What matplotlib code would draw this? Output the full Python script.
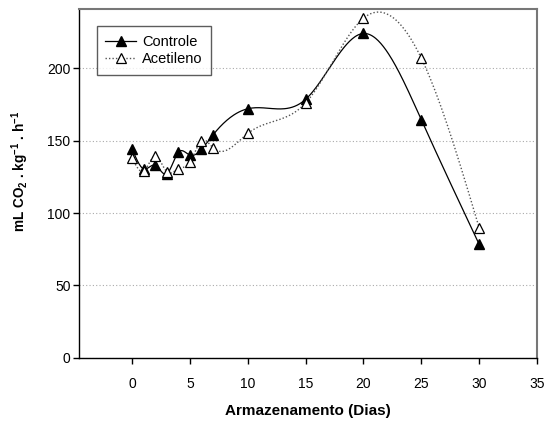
import numpy as np
import matplotlib
matplotlib.use('Agg')
import matplotlib.pyplot as plt

plt.rcParams['font.family'] = ['Liberation Sans', 'DejaVu Sans']
plt.rcParams['mathtext.fontset'] = 'custom'
plt.rcParams['mathtext.rm'] = 'Liberation Sans:bold'
plt.rcParams['mathtext.bf'] = 'Liberation Sans:bold'

dias = [0, 1, 2, 3, 4, 5, 6, 7, 10, 15, 20, 25, 30]
controle = [144.5, 130.5, 133, 127, 142, 140, 144, 154, 172, 178.5, 224, 164.5, 78.5]
acetileno = [138, 129, 139.5, 128.5, 130.5, 135, 150, 145, 155, 176, 234.5, 207, 90]


def spline(x, y, n=400):
    # natural cubic spline, only used to draw the smooth connecting line
    x = np.asarray(x, float)
    y = np.asarray(y, float)
    k = len(x)
    h = np.diff(x)
    A = np.zeros((k, k))
    b = np.zeros(k)
    A[0, 0] = 1
    A[-1, -1] = 1
    for i in range(1, k - 1):
        A[i, i - 1] = h[i - 1]
        A[i, i] = 2 * (h[i - 1] + h[i])
        A[i, i + 1] = h[i]
        b[i] = 6 * ((y[i + 1] - y[i]) / h[i] - (y[i] - y[i - 1]) / h[i - 1])
    m = np.linalg.solve(A, b)
    xs = np.linspace(x[0], x[-1], n)
    idx = np.clip(np.searchsorted(x, xs) - 1, 0, k - 2)
    x0, x1 = x[idx], x[idx + 1]
    hh = x1 - x0
    t0 = x1 - xs
    t1 = xs - x0
    ys = (m[idx] * t0**3 / (6 * hh) + m[idx + 1] * t1**3 / (6 * hh)
          + (y[idx] / hh - m[idx] * hh / 6) * t0
          + (y[idx + 1] / hh - m[idx + 1] * hh / 6) * t1)
    return xs, ys


fig = plt.figure(figsize=(5.44, 4.21), dpi=100)
ax = fig.add_axes([0.145, 0.15, 0.842, 0.829])

xs, ys = spline(dias, controle)
ax.plot(xs, ys, color='black', lw=0.9, zorder=3)
ax.plot(dias, controle, ls='none', marker='^', ms=6.5, color='black', zorder=4)

xs, ys = spline(dias, acetileno)
ax.plot(xs, ys, color='#555555', lw=1.0, ls=(0, (1, 1.5)), zorder=3)
ax.plot(dias, acetileno, ls='none', marker='^', ms=6.5, mfc='white',
        mec='black', mew=0.9, zorder=4)

# legend handles
h1, = ax.plot([], [], color='black', lw=0.9, marker='^', ms=6.5)
h2, = ax.plot([], [], color='#555555', lw=1.0, ls=(0, (1, 1.5)), marker='^',
              ms=6.5, mfc='white', mec='black', mew=0.9)
leg = ax.legend([h1, h2], ['Controle', 'Acetileno'], loc='upper left',
                bbox_to_anchor=(0.039, 0.951), fontsize=10.5, frameon=True,
                fancybox=False, edgecolor='#333333', borderpad=0.6,
                handlelength=2.1, labelspacing=0.25, handletextpad=0.4,
                borderaxespad=0)
leg.get_frame().set_linewidth(1.0)

ax.set_xlim(-4.6, 35)
ax.set_ylim(0, 241)
ax.set_xticks(range(0, 36, 5))
ax.set_yticks(range(0, 201, 50))
ax.yaxis.grid(True, color='#aaaaaa', ls=(0, (1, 2)), lw=0.8)
ax.set_axisbelow(True)
ax.tick_params(labelsize=10, length=4, width=1, direction='out', pad=10)
ax.tick_params(axis='y', pad=2)

for s in ['top', 'right']:
    ax.spines[s].set_color('#777777')
    ax.spines[s].set_linewidth(1.5)
for s in ['left', 'bottom']:
    ax.spines[s].set_linewidth(1.0)

ax.set_xlabel('Armazenamento (Dias)', fontsize=11, fontweight='bold', labelpad=9)
ax.set_ylabel(r'mL CO$_{\mathrm{2}}$ . kg$^{\mathrm{-1}}$ . h$^{\mathrm{-1}}$',
              fontsize=9.8, fontweight='bold')
ax.yaxis.set_label_coords(-0.104, 0.536)

fig.savefig('out.png', dpi=100)
